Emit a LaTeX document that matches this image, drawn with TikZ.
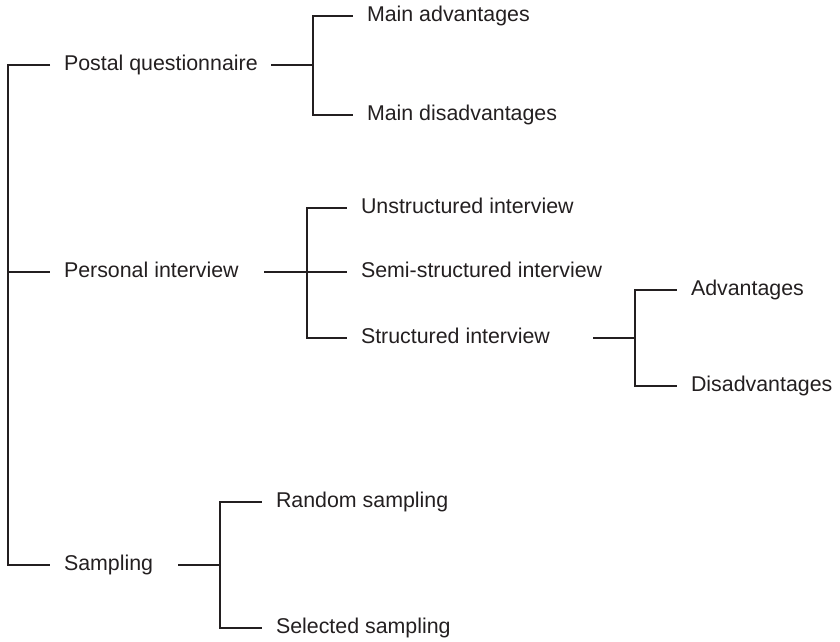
\documentclass[tikz,border=0pt]{standalone}
\usepackage{fontspec}
\setmainfont{Liberation Sans}
\definecolor{baseink}{RGB}{35,31,32}

\begin{document}
\begin{tikzpicture}[x=0.025cm, y=-0.025cm]
  \tikzset{
    item_label/.style={
      anchor=west, inner xsep=0.35cm, inner ysep=0pt, outer sep=0pt,
      text height=0.72em, text depth=0pt, text=baseink,
      font=\fontsize{15.2}{18}\selectfont
    },
    branch_line/.style={draw=baseink, line width=1.6pt}
  }
  \useasboundingbox (0,0) rectangle (840,642);

  % first level
  \node[item_label] (pq) at (50,65)  {Postal questionnaire};
  \node[item_label] (pi) at (50,272) {Personal interview};
  \node[item_label] (sa) at (50,565) {Sampling};

  % second level
  \node[item_label] (ma) at (353,16)  {Main advantages};
  \node[item_label] (md) at (353,115) {Main disadvantages};
  \node[item_label] (un) at (347,208) {Unstructured interview};
  \node[item_label] (se) at (347,272) {Semi-structured interview};
  \node[item_label] (st) at (347,338) {Structured interview};
  \node[item_label] (ra) at (262,502) {Random sampling};
  \node[item_label] (sl) at (262,628) {Selected sampling};

  % third level
  \node[item_label] (ad) at (677,290) {Advantages};
  \node[item_label] (di) at (677,386) {Disadvantages};

  % trunk
  \coordinate (trunk) at (8,272);
  \draw[branch_line] (pq.west) -| (trunk) |- (sa.west);
  \draw[branch_line] (trunk) -- (pi.west);

  % stubs and junctions
  \coordinate (pq-o) at (271,65);  \coordinate (pq-j) at (313,65);
  \coordinate (pi-o) at (264,272); \coordinate (pi-j) at (307,272);
  \coordinate (st-o) at (593,338); \coordinate (st-j) at (635,338);
  \coordinate (sa-o) at (178,565); \coordinate (sa-j) at (220,565);

  \foreach \p in {pq,pi,st,sa}
    \draw[branch_line] (\p-o) -- (\p-j);

  \foreach \c in {ma,md}
    \draw[branch_line] (pq-j) |- (\c.west);
  \foreach \c in {un,se,st}
    \draw[branch_line] (pi-j) |- (\c.west);
  \foreach \c in {ad,di}
    \draw[branch_line] (st-j) |- (\c.west);
  \foreach \c in {ra,sl}
    \draw[branch_line] (sa-j) |- (\c.west);

\end{tikzpicture}
\end{document}
